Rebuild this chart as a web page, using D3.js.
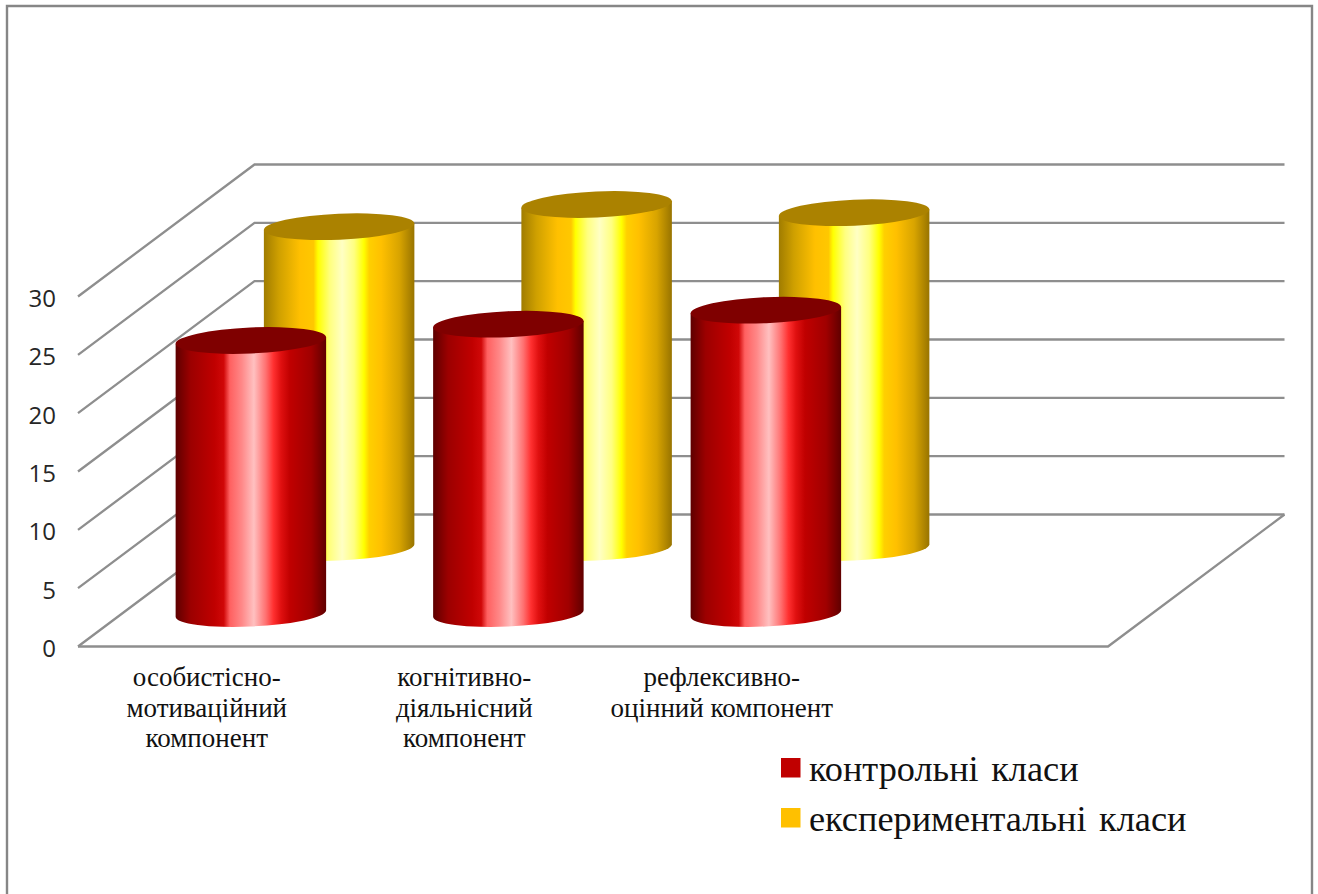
<!DOCTYPE html>
<html lang="uk">
<head>
<meta charset="utf-8">
<title>Компоненти: контрольні та експериментальні класи</title>
<script src="https://cdn.jsdelivr.net/npm/d3@7/dist/d3.min.js"></script>
<style>
  html, body { margin: 0; padding: 0; background: #fff; }
  svg { display: block; }
</style>
</head>
<body>
<svg id="chart" width="1318" height="894"></svg>
<script>
// Chart data
const categories = ["особистісно-мотиваційний компонент", "когнітивно-діяльнісний компонент", "рефлексивно-оцінний компонент", ""];
const categoryLines = [
  ["особистісно-", "мотиваційний", "компонент"],
  ["когнітивно-", "діяльнісний", "компонент"],
  ["рефлексивно-", "оцінний компонент"],
  []
];
const seriesNames = ["контрольні класи", "експериментальні класи"];
const controlValues = [23.4, 24.8, 26.0];
const experimentalValues = [27.5, 29.4, 28.7];
const yTicks = [0, 5, 10, 15, 20, 25, 30];

const svg = d3.select("#chart");
const GRID = "#8e8e8e";

// Oblique projection: floor depth shifts a point up and to the right.
const depthDx = 176.5, depthDy = -132;
const x = d3.scaleBand().domain(categories).range([78, 1108]);
const y = d3.scaleLinear().domain([0, 30]).range([646.5, 296.5]);
const depth = d3.scaleBand().domain(seriesNames).range([0, 1]);
const project = (px, py, d) => [px + d * depthDx, py + d * depthDy];

// Frame (open at the bottom edge of the page)
svg.append("path")
  .attr("d", "M7,894V6H1312V894")
  .attr("fill", "none").attr("stroke", "#868686").attr("stroke-width", 2.4);

// Wall gridlines and side-wall diagonals
const grid = svg.append("g").attr("fill", "none").attr("stroke", GRID).attr("stroke-width", 2.3);
const xMin = x.range()[0], xMax = x.range()[1];
yTicks.forEach(t => {
  const a = project(xMin, y(t), 0), b = project(xMin, y(t), 1), c = project(xMax, y(t), 1);
  grid.append("path").attr("d", d3.line()([a, b, c]));
});
// Floor outline
grid.append("path").attr("d", d3.line()([
  project(xMin, y(0), 0), project(xMax, y(0), 0), project(xMax, y(0), 1)
]));

// Horizontal metallic gradients for the cylinder bodies
const defs = svg.append("defs");
const gradients = [
  { id: "bodyRed", stops: [[0, "#5e0000"], [0.1, "#9c0000"], [0.26, "#c00000"], [0.32, "#d00808"], [0.36, "#ff6060"], [0.44, "#ff8888"], [0.52, "#ffc0c0"], [0.6, "#ff7070"], [0.65, "#ff3030"], [0.7, "#e01010"], [0.76, "#c00000"], [0.9, "#a00000"], [1, "#600000"]] },
  { id: "bodyGold", stops: [[0, "#a07c00"], [0.1, "#cfa000"], [0.24, "#ffc000"], [0.33, "#ffc800"], [0.36, "#ffff00"], [0.44, "#ffff80"], [0.52, "#ffffc4"], [0.6, "#ffff80"], [0.665, "#ffff00"], [0.7, "#ffd000"], [0.78, "#ffc000"], [0.9, "#d8a400"], [1, "#987400"]] }
];
gradients.forEach(g => {
  const lg = defs.append("linearGradient").attr("id", g.id)
    .attr("x1", 0).attr("x2", 1).attr("y1", 0).attr("y2", 0);
  g.stops.forEach(s => lg.append("stop").attr("offset", s[0]).attr("stop-color", s[1]));
});

const seriesStyle = [
  { name: seriesNames[0], values: controlValues, body: "bodyRed", top: "#7f0000", swatch: "#c00000" },
  { name: seriesNames[1], values: experimentalValues, body: "bodyGold", top: "#ab8200", swatch: "#ffc000" }
];

// Cylinders: slightly tilted elliptical caps, rear series first.
const rx = x.bandwidth() * 0.2925, ry = 13, tilt = -2.5;
const th = tilt * Math.PI / 180;
const halfW = Math.sqrt(rx * rx * Math.cos(th) ** 2 + ry * ry * Math.sin(th) ** 2);
const edgeDy = (rx * rx - ry * ry) * Math.sin(th) * Math.cos(th) / halfW;

[...seriesStyle].reverse().forEach(s => {
  const d = depth(s.name) + depth.bandwidth() / 2;
  const group = svg.append("g");
  s.values.forEach((v, i) => {
    const cat = categories[i];
    const [cx, yBase] = project(x(cat) + x.bandwidth() / 2, y(0), d);
    const yTop = yBase - (y(0) - y(v));
    group.append("path")
      .attr("d", `M${cx - halfW},${yTop - edgeDy}L${cx - halfW},${yBase - edgeDy}` +
        `A${rx},${ry} ${tilt} 0 0 ${cx + halfW},${yBase + edgeDy}` +
        `L${cx + halfW},${yTop + edgeDy}Z`)
      .attr("fill", `url(#${s.body})`);
    group.append("ellipse")
      .attr("rx", rx).attr("ry", ry)
      .attr("transform", `translate(${cx},${yTop}) rotate(${tilt})`)
      .attr("fill", s.top);
  });
});

// Value axis labels
svg.append("g").attr("font-family", "'Open Sans', sans-serif").attr("font-size", 24)
  .attr("fill", "#262626").attr("text-anchor", "end")
  .selectAll("text").data(yTicks).join("text")
  .attr("x", 56).attr("y", d => y(d) + 10.5)
  .text(d => d);

// Category labels
const catG = svg.append("g").attr("font-family", "'Liberation Serif', serif")
  .attr("font-size", 27).attr("fill", "#111").attr("text-anchor", "middle");
categories.forEach((c, i) => {
  categoryLines[i].forEach((line, j) => {
    catG.append("text")
      .attr("x", x(c) + x.bandwidth() / 2)
      .attr("y", 686 + j * 30.7)
      .text(line);
  });
});

// Legend
const legend = svg.append("g");
seriesStyle.forEach((s, i) => {
  const row = legend.append("g").attr("transform", `translate(781,${758 + i * 50})`);
  row.append("rect").attr("width", 19.5).attr("height", 19.5).attr("fill", s.swatch);
  row.append("text").attr("x", 28).attr("y", 23)
    .attr("font-family", "'Liberation Serif', serif").attr("font-size", 36.3)
    .attr("word-spacing", 3.5).attr("fill", "#111").text(s.name);
});
</script>
</body>
</html>
